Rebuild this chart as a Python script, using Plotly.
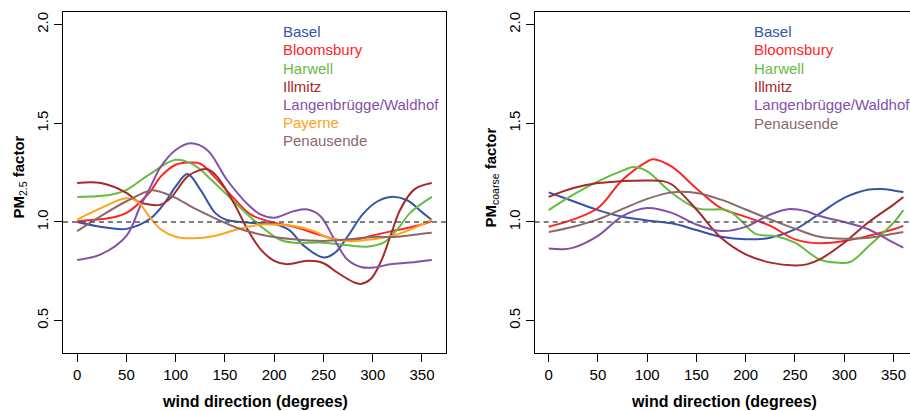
import plotly.graph_objects as go

# ---------------- data: PM2.5 panel ----------------
DIR_BASEL_25 = [0, 25, 50, 75, 90, 100, 112, 125, 140, 150, 175, 200, 215, 230, 250, 262, 275, 290, 305, 318, 335, 350, 360]
BASEL_25 = [1.00, 0.975, 0.965, 1.02, 1.105, 1.18, 1.243, 1.164, 1.046, 1.013, 0.996, 0.99, 0.96, 0.88, 0.82, 0.845, 0.93, 1.04, 1.105, 1.127, 1.11, 1.05, 1.01]

DIR_BLOOM_25 = [0, 34, 50, 73, 85, 100, 113, 125, 139, 159, 176, 200, 220, 250, 267, 281, 300, 325, 350, 360]
BLOOM_25 = [1.004, 1.021, 1.046, 1.147, 1.231, 1.29, 1.301, 1.295, 1.23, 1.12, 1.038, 0.996, 0.976, 0.929, 0.909, 0.907, 0.932, 0.959, 0.987, 1.004]

DIR_HARW_25 = [0, 34, 50, 73, 100, 118, 139, 162, 186, 206, 220, 250, 275, 294, 311, 325, 338, 360]
HARW_25 = [1.127, 1.138, 1.163, 1.24, 1.315, 1.29, 1.2, 1.09, 0.98, 0.91, 0.895, 0.895, 0.882, 0.875, 0.895, 0.962, 1.046, 1.127]

DIR_ILLM_25 = [0, 24, 50, 61, 73, 85, 95, 112, 125, 132, 142, 159, 173, 186, 200, 213, 234, 250, 264, 281, 288, 298, 308, 318, 328, 342, 360]
ILLM_25 = [1.197, 1.197, 1.147, 1.105, 1.088, 1.088, 1.122, 1.23, 1.264, 1.268, 1.23, 1.096, 0.962, 0.862, 0.803, 0.786, 0.803, 0.791, 0.744, 0.694, 0.686, 0.711, 0.795, 0.929, 1.063, 1.164, 1.197]

DIR_LANG_25 = [0, 24, 50, 64, 73, 85, 100, 115, 132, 152, 173, 186, 200, 220, 234, 247, 261, 274, 288, 301, 318, 338, 360]
LANG_25 = [0.807, 0.836, 0.93, 1.08, 1.164, 1.281, 1.365, 1.399, 1.365, 1.214, 1.09, 1.038, 1.021, 1.055, 1.063, 1.029, 0.912, 0.811, 0.772, 0.769, 0.786, 0.794, 0.807]

DIR_PAYE_25 = [0, 24, 50, 61, 73, 85, 100, 118, 139, 162, 186, 200, 220, 240, 254, 274, 300, 325, 350, 360]
PAYE_25 = [1.012, 1.07, 1.12, 1.105, 1.029, 0.962, 0.925, 0.917, 0.929, 0.962, 0.987, 0.987, 0.979, 0.954, 0.921, 0.903, 0.912, 0.937, 0.987, 1.012]

DIR_PENA_25 = [0, 24, 50, 75, 88, 100, 118, 139, 162, 186, 220, 250, 275, 300, 325, 350, 360]
PENA_25 = [0.954, 1.03, 1.105, 1.16, 1.147, 1.122, 1.071, 1.021, 0.971, 0.937, 0.912, 0.904, 0.912, 0.924, 0.925, 0.94, 0.945]

# ---------------- data: PM coarse panel ----------------
DIR_BASEL_C = [0, 25, 50, 75, 100, 125, 150, 175, 200, 225, 250, 275, 300, 325, 338, 350, 360]
BASEL_C = [1.15, 1.105, 1.06, 1.026, 1.008, 0.993, 0.959, 0.925, 0.912, 0.92, 0.962, 1.042, 1.122, 1.164, 1.167, 1.16, 1.152]

DIR_BLOOM_C = [0, 25, 50, 75, 100, 106, 125, 150, 175, 200, 225, 250, 275, 300, 325, 350, 360]
BLOOM_C = [0.976, 1.013, 1.071, 1.214, 1.306, 1.318, 1.28, 1.17, 1.07, 1.026, 0.98, 0.912, 0.892, 0.903, 0.93, 0.963, 0.98]

DIR_HARW_C = [0, 25, 50, 75, 86, 100, 125, 150, 160, 181, 194, 210, 231, 250, 275, 292, 306, 325, 350, 360]
HARW_C = [1.06, 1.138, 1.206, 1.26, 1.278, 1.256, 1.147, 1.07, 1.063, 1.06, 1.013, 0.94, 0.928, 0.895, 0.81, 0.794, 0.797, 0.878, 0.996, 1.06]

DIR_ILLM_C = [0, 25, 50, 75, 100, 116, 125, 150, 175, 200, 225, 250, 262, 275, 300, 325, 350, 360]
ILLM_C = [1.127, 1.172, 1.197, 1.207, 1.21, 1.207, 1.19, 1.063, 0.92, 0.836, 0.794, 0.78, 0.785, 0.81, 0.895, 1.0, 1.088, 1.127]

DIR_LANG_C = [0, 15, 25, 50, 75, 100, 125, 150, 175, 200, 225, 245, 262, 275, 300, 325, 350, 360]
LANG_C = [0.865, 0.862, 0.87, 0.93, 1.03, 1.071, 1.046, 0.987, 0.954, 0.975, 1.038, 1.066, 1.054, 1.03, 1.0, 0.962, 0.895, 0.87]

DIR_PENA_C = [0, 25, 50, 75, 100, 125, 150, 175, 200, 225, 250, 275, 300, 325, 350, 360]
PENA_C = [0.949, 0.976, 1.013, 1.066, 1.117, 1.15, 1.147, 1.113, 1.063, 1.013, 0.966, 0.925, 0.915, 0.92, 0.94, 0.949]

SITES_25 = ["Basel", "Bloomsbury", "Harwell", "Illmitz", "Langenbrügge/Waldhof", "Payerne", "Penausende"]
SITES_C = ["Basel", "Bloomsbury", "Harwell", "Illmitz", "Langenbrügge/Waldhof", "Penausende"]
X_TICKS = [0, 50, 100, 150, 200, 250, 300, 350]
Y_TICKS = [0.5, 1.0, 1.5, 2.0]
Y_TICK_TEXT = ["0.5", "1.0", "1.5", "2.0"]

COLORS = {
    "Basel": "#3553A8",
    "Bloomsbury": "#FF2525",
    "Harwell": "#66BB44",
    "Illmitz": "#A52A2A",
    "Langenbrügge/Waldhof": "#8450AA",
    "Payerne": "#FFA31A",
    "Penausende": "#8B6969",
}

series_25 = {
    "Basel": (DIR_BASEL_25, BASEL_25),
    "Bloomsbury": (DIR_BLOOM_25, BLOOM_25),
    "Harwell": (DIR_HARW_25, HARW_25),
    "Illmitz": (DIR_ILLM_25, ILLM_25),
    "Langenbrügge/Waldhof": (DIR_LANG_25, LANG_25),
    "Payerne": (DIR_PAYE_25, PAYE_25),
    "Penausende": (DIR_PENA_25, PENA_25),
}
series_c = {
    "Basel": (DIR_BASEL_C, BASEL_C),
    "Bloomsbury": (DIR_BLOOM_C, BLOOM_C),
    "Harwell": (DIR_HARW_C, HARW_C),
    "Illmitz": (DIR_ILLM_C, ILLM_C),
    "Langenbrügge/Waldhof": (DIR_LANG_C, LANG_C),
    "Penausende": (DIR_PENA_C, PENA_C),
}

W, H = 910, 411
FONT = "Arial, 'Liberation Sans', sans-serif"

fig = go.Figure()
for name in SITES_25:
    x, y = series_25[name]
    fig.add_trace(go.Scatter(x=x, y=y, mode="lines", name=name, xaxis="x", yaxis="y",
                             line=dict(color=COLORS[name], width=2, shape="spline", smoothing=1.0),
                             showlegend=False))
for name in SITES_C:
    x, y = series_c[name]
    fig.add_trace(go.Scatter(x=x, y=y, mode="lines", name=name, xaxis="x2", yaxis="y2",
                             line=dict(color=COLORS[name], width=2, shape="spline", smoothing=1.0),
                             showlegend=False))

def px_x(p):
    return p / W

def px_y(p):
    return 1 - p / H

scale = 383 / 388.8  # px per degree
left2 = 534.7
x2_lo = -14.2
x2_hi = x2_lo + (W - left2) / scale

axis_common = dict(showgrid=False, zeroline=False, showline=True, linecolor="black", linewidth=1,
                   ticks="outside", ticklen=8, tickcolor="black", tickwidth=1,
                   tickfont=dict(family=FONT, size=15, color="black"))

ydom = [px_y(353), px_y(12)]
fig.update_layout(
    width=W, height=H, margin=dict(l=0, r=0, t=0, b=0),
    paper_bgcolor="white", plot_bgcolor="white",
    xaxis=dict(domain=[px_x(63), px_x(446)], range=[-14.4, 374.4], tickvals=X_TICKS,
               mirror=True, anchor="y", **axis_common),
    yaxis=dict(domain=ydom, range=[0.336, 2.064], tickvals=Y_TICKS, ticktext=Y_TICK_TEXT,
               tickangle=-90, mirror=True, anchor="x", **axis_common),
    xaxis2=dict(domain=[px_x(left2), 1.0], range=[x2_lo, x2_hi], tickvals=X_TICKS,
                mirror=True, anchor="y2", **axis_common),
    yaxis2=dict(domain=ydom, range=[0.336, 2.064], tickvals=Y_TICKS, ticktext=Y_TICK_TEXT,
                tickangle=-90, mirror=False, anchor="x2", **axis_common),
)

# dashed reference lines at 1.0
for xr, yr in (("x domain", "y"), ("x2 domain", "y2")):
    fig.add_shape(type="line", xref=xr, yref=yr, x0=0, x1=1, y0=1, y1=1,
                  line=dict(color="#555555", width=1.5, dash="5px,4px"), layer="above")

ann = []
# axis titles
ann.append(dict(text="<b>wind direction (degrees)</b>", x=px_x(254.5), y=px_y(401.5), xref="paper", yref="paper",
                showarrow=False, xanchor="center", yanchor="middle", font=dict(family=FONT, size=16, color="black")))
ann.append(dict(text="<b>wind direction (degrees)</b>", x=px_x(724), y=px_y(401.5), xref="paper", yref="paper",
                showarrow=False, xanchor="center", yanchor="middle", font=dict(family=FONT, size=16, color="black")))
ann.append(dict(text="<b>PM</b><sub>2.5</sub><b> factor</b>", x=px_x(19), y=px_y(177.5), xref="paper", yref="paper",
                showarrow=False, xanchor="center", yanchor="middle", textangle=-90,
                font=dict(family=FONT, size=15, color="black")))
ann.append(dict(text="<b>PM</b><sub>coarse</sub><b> factor</b>", x=px_x(491), y=px_y(177.5), xref="paper", yref="paper",
                showarrow=False, xanchor="center", yanchor="middle", textangle=-90,
                font=dict(family=FONT, size=15, color="black")))

# in-plot legend texts
for i, name in enumerate(SITES_25):
    ann.append(dict(text=name, x=px_x(280.7), y=px_y(31.7 + 18.2 * i), xref="paper", yref="paper",
                    showarrow=False, xanchor="left", yanchor="middle",
                    font=dict(family=FONT, size=15, color=COLORS[name])))
for i, name in enumerate(SITES_C):
    ann.append(dict(text=name, x=px_x(752.3), y=px_y(31.7 + 18.3 * i), xref="paper", yref="paper",
                    showarrow=False, xanchor="left", yanchor="middle",
                    font=dict(family=FONT, size=15, color=COLORS[name])))
fig.update_layout(annotations=ann)

fig.write_html("out.html", config={"displayModeBar": False, "staticPlot": True},
               post_script="document.body.style.margin='0';document.body.style.padding='0';"
                           "document.documentElement.style.overflow='hidden';")
